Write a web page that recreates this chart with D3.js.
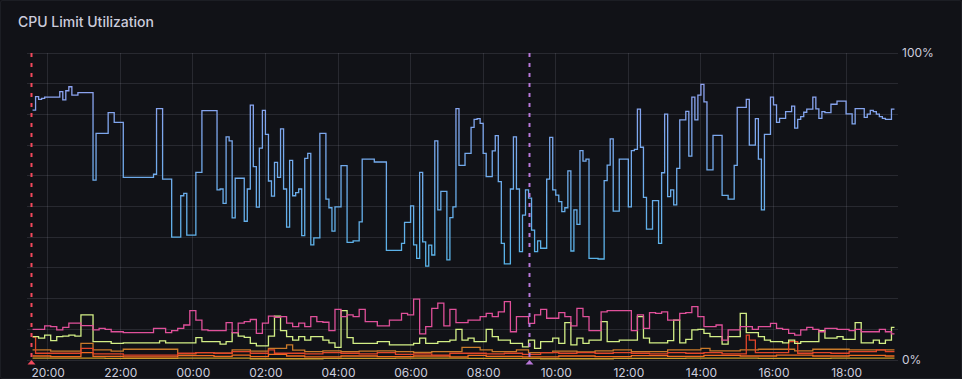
<!DOCTYPE html>
<html>
<head>
<meta charset="utf-8">
<script src="https://cdn.jsdelivr.net/npm/d3@7"></script>
<style>
  html, body { margin: 0; padding: 0; background: #111217; }
  svg { display: block; font-family: Inter, "Noto Sans", sans-serif; }
</style>
</head>
<body>
<div id="chart"></div>
<script>
"use strict";

// ---- data ----
const title = 'CPU Limit Utilization';
const rangeStart = '19:25';
const rangeEnd = '19:25';
const seriesEnd = '19:20';

// blue series, change points [clock time, percent]
const blueSteps = [
  ['19:35', 81.4], ['19:40', 85.8], ['19:45', 84.9], ['19:50', 85.2], ['19:55', 85.6], ['20:20', 87.4],
  ['20:25', 84.7], ['20:30', 87.7], ['20:35', 89], ['20:40', 86.3], ['20:50', 87.1], ['21:15', 58.6],
  ['21:20', 73.8], ['21:40', 80.6], ['21:50', 77.4], ['22:05', 59.5], ['22:55', 60.5], ['23:00', 81.9],
  ['23:10', 58.9], ['23:25', 40], ['23:40', 53.5], ['23:45', 54.3], ['23:50', 40.7], ['00:05', 61.1],
  ['00:15', 81.2], ['00:40', 55.4], ['00:45', 55.7], ['00:50', 51], ['00:55', 72.7], ['01:00', 71.4],
  ['01:05', 46.3], ['01:10', 59.2], ['01:25', 45.2], ['01:30', 55.7], ['01:35', 83], ['01:40', 63],
  ['01:45', 49.8], ['01:50', 69], ['01:55', 81.3], ['02:00', 73.5], ['02:05', 58.3], ['02:10', 53.4],
  ['02:15', 64.4], ['02:20', 59.5], ['02:25', 75.3], ['02:30', 55.7], ['02:35', 43.3], ['02:40', 65],
  ['02:45', 53.5], ['02:50', 54.5], ['02:55', 55.7], ['03:00', 40.5], ['03:05', 65.7], ['03:10', 67.3],
  ['03:15', 37.5], ['03:20', 39.8], ['03:30', 73.8], ['03:40', 52.4], ['03:45', 49.6], ['03:50', 42],
  ['03:55', 49.9], ['04:05', 63.3], ['04:15', 38.3], ['04:25', 38.8], ['04:35', 45], ['04:40', 65.4],
  ['05:00', 64.5], ['05:20', 35.7], ['05:45', 38], ['05:50', 44.8], ['06:00', 50.2], ['06:05', 37.5],
  ['06:10', 33.1], ['06:15', 61.1], ['06:20', 38.5], ['06:25', 30.6], ['06:30', 37.4], ['06:35', 34.2],
  ['06:40', 71.4], ['06:45', 48.9], ['06:50', 54.9], ['07:00', 32.6], ['07:05', 46.4], ['07:10', 49.9],
  ['07:15', 81.9], ['07:20', 63.4], ['07:30', 67.3], ['07:40', 75.8], ['07:45', 78.4], ['07:50', 78.6],
  ['07:55', 77.1], ['08:00', 67.3], ['08:05', 59.7], ['08:15', 68.1], ['08:20', 73.1], ['08:25', 58.1],
  ['08:30', 38], ['08:35', 31.3], ['08:45', 55.7], ['08:50', 72.7], ['08:55', 55.7], ['09:00', 35.3],
  ['09:05', 47.2], ['09:10', 55.4], ['09:15', 52.7], ['09:20', 42.3], ['09:25', 35.3], ['09:30', 38.8],
  ['09:35', 36.4], ['09:45', 58.9], ['09:50', 72.5], ['09:55', 55.4], ['10:00', 53.7], ['10:05', 51.6],
  ['10:10', 48.3], ['10:15', 49.6], ['10:20', 61.6], ['10:25', 35.5], ['10:30', 48.9], ['10:35', 44.2],
  ['10:40', 68.2], ['10:45', 64.8], ['10:50', 65.4], ['10:55', 33.1], ['11:10', 32.9], ['11:20', 58.4],
  ['11:25', 63.5], ['11:30', 72], ['11:35', 48.5], ['11:45', 65.4], ['12:00', 49.9], ['12:05', 68.2],
  ['12:10', 68.6], ['12:15', 81.7], ['12:20', 69.3], ['12:25', 53], ['12:30', 42.6], ['12:40', 51.9],
  ['12:50', 38], ['12:55', 61], ['13:00', 80.1], ['13:05', 53.2], ['13:10', 55.4], ['13:15', 50.5],
  ['13:20', 62.4], ['13:25', 78.2], ['13:35', 81], ['13:40', 66.4], ['13:45', 85.6], ['13:50', 78.2],
  ['13:55', 86.3], ['14:00', 89.8], ['14:05', 84.1], ['14:10', 61.9], ['14:20', 73.2], ['14:35', 53.6],
  ['14:45', 52.4], ['14:55', 63.4], ['15:00', 82.3], ['15:15', 84.9], ['15:20', 70], ['15:30', 78.6],
  ['15:35', 65.4], ['15:40', 48.9], ['15:45', 73.5], ['15:55', 85.6], ['16:00', 83.1], ['16:05', 77.4],
  ['16:10', 78.7], ['16:20', 80.9], ['16:30', 82.7], ['16:35', 75.5], ['16:40', 78.4], ['16:45', 79.3],
  ['16:50', 80.7], ['16:55', 81.7], ['17:05', 85.6], ['17:10', 81.8], ['17:15', 78.7], ['17:20', 80.9],
  ['17:25', 80.6], ['17:35', 83.3], ['17:45', 84.3], ['18:00', 80.2], ['18:10', 76.9], ['18:15', 81.9],
  ['18:30', 79], ['18:35', 80.1], ['18:40', 81.3], ['18:45', 80.9], ['18:50', 80.1], ['18:55', 79.3],
  ['19:00', 78.7], ['19:05', 78.4], ['19:15', 81.7]
];

// pink and green series, one value every 10 minutes from 19:35
const sampleStart = '19:35';
const sampleMinutes = 10;
const pinkValues = [
  10, 10, 11.1, 10.9, 9.8, 10.6, 12, 12, 11.2, 11.2, 9.8, 10.3, 10, 9.2, 9.2, 8.9, 8.9, 8.9, 8.9, 8.9,
  10.3, 10.3, 8.9, 9.6, 10.3, 11.4, 16.1, 13, 9.8, 9.6, 9.6, 9.6, 12.2, 8.9, 12, 12.5, 13.2, 8.7, 12, 14.3,
  13.9, 14.1, 12, 10.9, 12, 10.9, 14.1, 12.5,
  12.3, 9.6, 16.5, 14.1, 14.7, 14.1, 16.5, 12.5, 12.5, 11.1, 11.1, 13, 13, 15.2, 14.7, 19.8, 8.5, 10.9,
  16.8, 18.5, 11.1, 16.5, 12.2, 12.2, 13, 13, 14.1, 15.2, 14.1, 15.7, 19, 9.2, 14.1, 14.1, 11.9, 14.7,
  16.5, 13.6, 13.6, 15.4, 14.1, 11.1, 16.8, 14.1, 9.6, 9.6, 15.7, 16.1, 16.1, 16.1, 16.1, 9.6, 14.7,
  10.3, 15.4, 15.2, 15.7, 13, 13, 15.2, 15.4, 17.4, 14.1, 10.9, 10.9, 11.4, 6.5, 9.8, 9.8, 10.9, 10.9,
  10, 10.9, 10.9, 11.9, 10.3, 10, 8.7, 8.1, 9.8, 10.6, 10, 9.2, 10.3, 10.3, 10, 10, 9.6, 10, 9.2, 9.2,
  9.2, 10, 9.2, 8.5
];
const greenValues = [
  7.6, 7.1, 8.1, 6.3, 7.6, 7.8, 8.1, 7.8, 14.7, 14.7, 6, 6, 6, 5.4, 5.4, 5.6, 5.6, 5.6, 5.6, 5.6,
  5.6, 6.2, 5.6, 5.6, 5.6, 5.6, 5.6, 7.3, 6, 6, 6, 5.2, 6, 8.9, 7.8, 7.4, 5.4, 4.6, 4.6, 7.8,
  14.3, 9.6, 7.6, 6.5, 7.6, 6.5, 7.6, 7.6,
  6.5, 5.6, 4.1, 16.1, 7.3, 5.4, 5.4, 5.4, 5.4, 6, 6, 4.9, 4.9, 4.9, 4.9, 5.4, 7.1, 5.4, 5.4, 6,
  6, 6.5, 10, 6.5, 7.1, 6, 6, 10, 7.6, 6.5, 6.5, 5.4, 5.4, 4.3, 6.5, 3.8, 6, 6, 7.1, 5.4,
  12.2, 4.9, 7.1, 5.4, 6.5, 6.5, 12.5, 6, 6, 6.5, 6.5, 6.5, 14.1,
  7.1, 5.6, 5.6, 5.6, 6.3, 13, 5.6, 6.7, 9.8, 10, 8.7, 7.6, 7.6, 5.2, 7.6, 7.6, 15.2, 8.9, 8.9, 7.6,
  6.5, 6, 6, 5.6, 6.5, 5.4, 6, 6, 6, 9.6, 7.1, 7.1, 7.6, 6.7, 6.7, 12.2, 5.6, 5.6, 6.5, 5.4,
  6.5, 10.6
];

// low series near the floor, change points [clock time, percent]
const orangeSteps = [
  ['19:35', 3.3], ['20:05', 2.9], ['20:55', 5.4], ['21:15', 3.3], ['21:45', 2.9], ['22:05', 3.5],
  ['23:35', 2], ['00:05', 2.4], ['00:35', 2.2], ['01:05', 3.3], ['01:35', 2.9], ['02:05', 3.8],
  ['02:35', 4.9], ['02:45', 3.2], ['03:05', 2.7], ['03:35', 3], ['04:05', 2.7], ['04:35', 2.9],
  ['05:05', 3], ['05:35', 2.7], ['06:05', 2.5], ['06:35', 2.7], ['07:25', 4.1], ['07:55', 3.3],
  ['08:15', 2.7], ['08:55', 3.3], ['09:15', 2.4], ['09:55', 2.9], ['10:35', 2.6], ['11:05', 3],
  ['11:35', 3.3], ['12:05', 2.7], ['13:05', 3.3], ['14:00', 3.8], ['14:15', 3], ['15:05', 3.3],
  ['15:35', 3.5], ['16:35', 3], ['17:05', 3.5], ['18:05', 3.3]
];
const redSteps = [
  ['19:35', 7.5], ['19:40', 2.2], ['20:55', 3.8], ['21:15', 2], ['22:05', 1.6], ['23:35', 2.2],
  ['00:05', 2.4], ['00:35', 2.2], ['01:05', 2.7], ['01:35', 2.2], ['02:05', 3.3], ['02:15', 2.2],
  ['03:05', 2], ['03:35', 2.4], ['04:05', 2.2], ['04:35', 2], ['05:05', 2.4], ['05:35', 1.8],
  ['06:05', 2], ['06:35', 1.6], ['07:05', 2.2], ['08:05', 2], ['08:35', 2.2], ['09:05', 1.8],
  ['09:35', 2.4], ['10:05', 2.2], ['10:35', 2.4], ['11:05', 2.2], ['11:35', 2.4], ['12:05', 2.2],
  ['12:35', 2], ['13:05', 2.4], ['13:35', 2.2], ['14:05', 2.4], ['14:35', 2], ['15:15', 8.1],
  ['15:20', 6.5], ['15:30', 2.4], ['16:25', 6], ['16:40', 2.2], ['17:05', 2.4], ['17:35', 2.2],
  ['18:05', 2.7], ['18:50', 3.3], ['19:05', 2.7]
];
const darkOrangeSteps = [
  ['19:35', 1.3], ['20:05', 1.1], ['20:55', 2.4], ['21:15', 1.2], ['22:05', 1], ['23:35', 1.4],
  ['00:35', 1.2], ['01:05', 1.6], ['01:35', 1.1], ['02:05', 1.8], ['02:35', 1.3], ['03:05', 1],
  ['04:05', 1.3], ['05:05', 1.1], ['06:05', 1.3], ['07:05', 1], ['07:35', 1.5], ['08:05', 1.2],
  ['09:05', 1], ['10:05', 1.3], ['11:05', 1.1], ['12:05', 1.4], ['13:05', 1.2], ['14:05', 1.5],
  ['15:05', 1.3], ['16:05', 1.6], ['17:05', 1.3], ['18:05', 1.5], ['19:05', 1.3]
];
const amberSteps = [
  ['19:35', 0.6], ['21:35', 0.5], ['23:35', 0.6], ['01:35', 0.4], ['03:35', 0.5], ['05:35', 0.6],
  ['07:35', 0.5], ['09:35', 0.4], ['11:35', 0.5], ['13:35', 0.6], ['15:35', 0.5], ['17:35', 0.6]
];

const annotations = [
  { time: '19:32', color: '#f2495c' },
  { time: '09:15', color: '#b877d9' }
];

const yLabels = [0, 1];

// ---- helpers ----
const parseClock = (s, nextDay) => {
  const [h, m] = s.split(':').map(Number);
  const day = (nextDay || (h * 60 + m) < 19 * 60 + 25) ? 2 : 1;
  return new Date(2024, 0, day, h, m);
};

const fromSteps = (steps) => {
  let pts = steps.map(([t, v]) => ({ t: parseClock(t), v }));
  pts.push({ t: parseClock(seriesEnd), v: pts[pts.length - 1].v });
  return pts;
};

const fromSamples = (values) => {
  let t0 = parseClock(sampleStart);
  let pts = values.map((v, i) => ({ t: d3.timeMinute.offset(t0, i * sampleMinutes), v }));
  pts.push({ t: parseClock(seriesEnd), v: pts[pts.length - 1].v });
  return pts;
};

// ---- chart ----
const width = 962;
const height = 379;
const plot = { left: 26.5, right: 897.5, top: 53, bottom: 360 };

const svg = d3.select('#chart').append('svg')
  .attr('width', width)
  .attr('height', height);

svg.append('rect')
  .attr('x', 0.5).attr('y', 0.5)
  .attr('width', width - 1).attr('height', height - 1)
  .attr('rx', 2)
  .attr('fill', '#111217')
  .attr('stroke', 'rgba(204,204,220,0.07)');

svg.append('text')
  .attr('x', 18).attr('y', 26.5)
  .attr('fill', '#ccccdc')
  .style('font-size', '14px')
  .style('font-weight', 500)
  .text(title);

const x = d3.scaleTime()
  .domain([parseClock(rangeStart), parseClock(rangeEnd, true)])
  .range([plot.left, plot.right]);

const y = d3.scaleLinear()
  .domain([0, 1])
  .range([plot.bottom, plot.top]);

// grid
const gridColor = 'rgba(204,204,220,0.13)';
const grid = svg.append('g').attr('shape-rendering', 'crispEdges');

grid.selectAll('line.h')
  .data(d3.range(0, 11).map((d) => d / 10))
  .join('line')
  .attr('class', 'h')
  .attr('x1', plot.left).attr('x2', plot.right)
  .attr('y1', (d) => y(d)).attr('y2', (d) => y(d))
  .attr('stroke', gridColor);

const xTicks = x.ticks(d3.timeHour.every(2));
grid.selectAll('line.v')
  .data(xTicks)
  .join('line')
  .attr('class', 'v')
  .attr('x1', (d) => x(d)).attr('x2', (d) => x(d))
  .attr('y1', plot.top).attr('y2', plot.bottom)
  .attr('stroke', gridColor);

// x axis labels
const xAxis = d3.axisBottom(x)
  .tickValues(xTicks)
  .tickFormat(d3.timeFormat('%H:%M'))
  .tickSize(0)
  .tickPadding(0);

const gx = svg.append('g')
  .attr('transform', `translate(0,${plot.bottom})`)
  .call(xAxis);
gx.select('.domain').remove();
gx.selectAll('text')
  .attr('y', 17)
  .attr('dy', null)
  .attr('fill', '#ccccdc')
  .style('font-size', '12px')
  .style('font-family', 'Inter, "Noto Sans", sans-serif');

// y axis labels (right)
const yAxis = d3.axisRight(y)
  .tickValues(yLabels)
  .tickFormat(d3.format('.0%'))
  .tickSize(0)
  .tickPadding(0);

const gy = svg.append('g')
  .attr('transform', `translate(902,0)`)
  .call(yAxis);
gy.select('.domain').remove();
gy.selectAll('text')
  .attr('fill', '#ccccdc')
  .style('font-size', '12px')
  .style('font-family', 'Inter, "Noto Sans", sans-serif');

// gradient for the blue series
const defs = svg.append('defs');
const grad = defs.append('linearGradient')
  .attr('id', 'blueGrad')
  .attr('gradientUnits', 'userSpaceOnUse')
  .attr('x1', 0).attr('x2', 0)
  .attr('y1', y(1)).attr('y2', y(0.2));
grad.append('stop').attr('offset', '0%').attr('stop-color', '#9a9ff2');
grad.append('stop').attr('offset', '45%').attr('stop-color', '#72aaec');
grad.append('stop').attr('offset', '100%').attr('stop-color', '#4fb6e6');

const line = d3.line()
  .x((d) => x(d.t))
  .y((d) => y(d.v / 100))
  .curve(d3.curveStepAfter);

const series = [
  { pts: fromSteps(amberSteps), color: '#c99a2a' },
  { pts: fromSteps(darkOrangeSteps), color: '#ef6a1f' },
  { pts: fromSteps(orangeSteps), color: '#c97a2a' },
  { pts: fromSteps(redSteps), color: '#e0452a' },
  { pts: fromSamples(greenValues), color: '#d3ef86' },
  { pts: fromSamples(pinkValues), color: '#e0509a' },
  { pts: fromSteps(blueSteps), color: 'url(#blueGrad)' }
];

svg.append('g')
  .selectAll('path')
  .data(series)
  .join('path')
  .attr('d', (d) => line(d.pts))
  .attr('fill', 'none')
  .attr('stroke', (d) => d.color)
  .attr('stroke-width', 1.3)
  .attr('stroke-linejoin', 'miter');

// annotations
const ann = svg.append('g');
annotations.forEach((a) => {
  let ax = Math.round(x(parseClock(a.time))) + 0.5;
  ann.append('line')
    .attr('x1', ax).attr('x2', ax)
    .attr('y1', plot.top).attr('y2', plot.bottom)
    .attr('stroke', a.color)
    .attr('stroke-width', 2)
    .attr('stroke-dasharray', '4,6');
  ann.append('path')
    .attr('d', `M${ax - 4},${plot.bottom + 4.5}L${ax + 4},${plot.bottom + 4.5}L${ax},${plot.bottom}Z`)
    .attr('fill', a.color);
});
</script>
</body>
</html>
